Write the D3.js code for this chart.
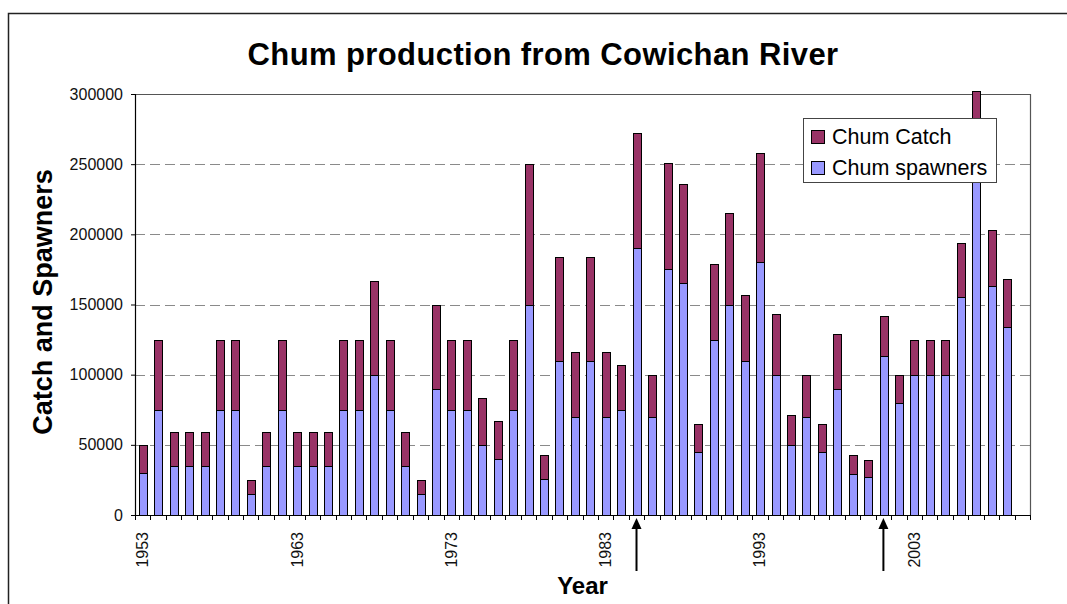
<!DOCTYPE html>
<html>
<head>
<meta charset="utf-8">
<script src="https://cdn.jsdelivr.net/npm/d3@7"></script>
<style>
  html, body { margin: 0; padding: 0; background: #fff; }
  svg { display: block; font-family: "Liberation Sans", Arial, sans-serif; }
</style>
</head>
<body>
<svg id="chart" width="1067" height="604"></svg>
<script>
// Return years (categories on the x axis)
const years = [
  1953, 1954, 1955, 1956, 1957, 1958, 1959, 1960, 1961, 1962,
  1963, 1964, 1965, 1966, 1967, 1968, 1969, 1970, 1971, 1972,
  1973, 1974, 1975, 1976, 1977, 1978, 1979, 1980, 1981, 1982,
  1983, 1984, 1985, 1986, 1987, 1988, 1989, 1990, 1991, 1992,
  1993, 1994, 1995, 1996, 1997, 1998, 1999, 2000, 2001, 2002,
  2003, 2004, 2005, 2006, 2007, 2008, 2009, 2010
];

// Chum spawners (escapement) per year
const spawners = [
  30000, 75000, 35000, 35000, 35000, 75000, 75000, 15000, 35000, 75000,
  35000, 35000, 35000, 75000, 75000, 100000, 75000, 35000, 15000, 90000,
  75000, 75000, 50000, 40000, 75000, 150000, 25500, 110000, 70000, 110000,
  70000, 75000, 190000, 70000, 175000, 165000, 45000, 125000, 150000, 110000,
  180000, 100000, 50000, 70000, 45000, 90000, 29500, 27000, 113000, 80000,
  100000, 100000, 100000, 155000, 240000, 163000, 134000, null
];

// Chum catch per year (stacked on top of spawners)
const catchVals = [
  20000, 50000, 24000, 24000, 24000, 50000, 50000, 10000, 24000, 50000,
  24000, 24000, 24000, 50000, 50000, 66500, 50000, 24000, 10000, 60000,
  50000, 50000, 33500, 27000, 50000, 100000, 17000, 74000, 46500, 74000,
  46500, 32000, 82000, 30000, 76000, 71000, 19500, 54000, 65000, 47000,
  78000, 43000, 21500, 30000, 19500, 39000, 13000, 12000, 29000, 20000,
  25000, 25000, 25000, 39000, 62000, 40000, 34000, null
];

// Y axis ticks and labelled years
const yTicks = [0, 50000, 100000, 150000, 200000, 250000, 300000];
const labelYears = [1953, 1963, 1973, 1983, 1993, 2003];
// Years marked with an arrow under the axis
const markedYears = [1985, 2001];

const seriesNames = ["Chum Catch", "Chum spawners"];
const seriesColors = ["#993366", "#9999ff"];

const svg = d3.select("#chart");

// outer chart frame
svg.append("path")
  .attr("d", "M8.5,620 V13.5 H1080")
  .attr("fill", "none")
  .attr("stroke", "#222")
  .attr("stroke-width", 1.5);

const plot = { left: 135, right: 1030, top: 94, bottom: 515 };

const x = d3.scaleBand()
  .domain(years)
  .range([plot.left, plot.right])
  .paddingInner(0.5)
  .paddingOuter(0.25);

const y = d3.scaleLinear()
  .domain([0, 300000])
  .range([plot.bottom, plot.top]);

// dashed gridlines
svg.append("g")
  .selectAll("line")
  .data(yTicks.filter(d => d > 0 && d < 300000))
  .join("line")
  .attr("x1", plot.left)
  .attr("x2", plot.right)
  .attr("y1", d => Math.round(y(d)) + 0.5)
  .attr("y2", d => Math.round(y(d)) + 0.5)
  .attr("stroke", "#8a8a8a")
  .attr("stroke-dasharray", "10,5");

// plot area border (top and right)
svg.append("path")
  .attr("d", `M${plot.left},${plot.top + 0.5} H${plot.right + 0.5} V${plot.bottom}`)
  .attr("fill", "none")
  .attr("stroke", "#555")
  .attr("stroke-width", 1.2);

// stacked data
const rows = years.map((yr, i) => ({ year: yr, spawners: spawners[i], catch: catchVals[i] }))
  .filter(d => d.spawners != null);
const stack = d3.stack().keys(["spawners", "catch"]);
const layers = stack(rows);
const layerColor = { spawners: seriesColors[1], catch: seriesColors[0] };

svg.append("g")
  .selectAll("g")
  .data(layers)
  .join("g")
  .attr("fill", d => layerColor[d.key])
  .selectAll("rect")
  .data(d => d)
  .join("rect")
  .attr("x", d => Math.round(x(d.data.year)) + 0.5)
  .attr("width", Math.round(x.bandwidth()))
  .attr("y", d => Math.round(y(d[1])) + 0.5)
  .attr("height", d => Math.round(y(d[0])) - Math.round(y(d[1])))
  .attr("stroke", "#000")
  .attr("stroke-width", 1);

// y axis
const yAxis = d3.axisLeft(y)
  .tickValues(yTicks)
  .tickFormat(d3.format("d"))
  .tickSize(4)
  .tickPadding(8);

const gy = svg.append("g")
  .attr("transform", `translate(${plot.left},0)`)
  .call(yAxis);
gy.select(".domain").attr("stroke", "#000").attr("stroke-width", 1.2);
gy.selectAll(".tick line").attr("stroke", "#000");
gy.selectAll("text")
  .attr("font-size", 16)
  .attr("fill", "#111")
  .attr("font-family", "Liberation Sans, Arial, sans-serif");

// x axis: ticks sit between categories
const step = x.step();
const boundaries = d3.range(years.length + 1).map(i => plot.left + i * step);
const gx = svg.append("g");
gx.append("line")
  .attr("x1", plot.left)
  .attr("x2", plot.right)
  .attr("y1", plot.bottom + 0.5)
  .attr("y2", plot.bottom + 0.5)
  .attr("stroke", "#000")
  .attr("stroke-width", 1.2);
gx.selectAll("line.tick")
  .data(boundaries)
  .join("line")
  .attr("class", "tick")
  .attr("x1", d => Math.round(d) + 0.5)
  .attr("x2", d => Math.round(d) + 0.5)
  .attr("y1", plot.bottom)
  .attr("y2", plot.bottom + 5)
  .attr("stroke", "#000");
gx.selectAll("text")
  .data(labelYears)
  .join("text")
  .attr("transform", d => `translate(${x(d) + x.bandwidth() / 2 + 5.5},532) rotate(-90)`)
  .attr("text-anchor", "end")
  .attr("font-size", 16)
  .attr("fill", "#111")
  .text(d => d);

// arrows under marked years
const arrows = svg.append("g");
markedYears.forEach(yr => {
  const cx = x(yr) + x.bandwidth() / 2;
  arrows.append("line")
    .attr("x1", cx).attr("x2", cx)
    .attr("y1", 571).attr("y2", 526)
    .attr("stroke", "#000")
    .attr("stroke-width", 2);
  arrows.append("path")
    .attr("d", `M${cx},518 L${cx - 5},529 L${cx + 5},529 Z`)
    .attr("fill", "#000");
});

// titles
svg.append("text")
  .attr("x", 543)
  .attr("y", 65)
  .attr("text-anchor", "middle")
  .attr("font-size", 31)
  .attr("font-weight", "bold")
  .attr("letter-spacing", 0.4)
  .attr("fill", "#000")
  .text("Chum production from Cowichan River");

svg.append("text")
  .attr("transform", "translate(52,302) rotate(-90)")
  .attr("text-anchor", "middle")
  .attr("font-size", 27)
  .attr("font-weight", "bold")
  .attr("fill", "#000")
  .text("Catch and Spawners");

svg.append("text")
  .attr("x", (plot.left + plot.right) / 2)
  .attr("y", 594)
  .attr("text-anchor", "middle")
  .attr("font-size", 24)
  .attr("font-weight", "bold")
  .attr("fill", "#000")
  .text("Year");

// legend
const legend = svg.append("g").attr("transform", "translate(803,118)");
legend.append("rect")
  .attr("x", 0.5).attr("y", 0.5)
  .attr("width", 193).attr("height", 64)
  .attr("fill", "#fff")
  .attr("stroke", "#444")
  .attr("stroke-width", 1);
seriesNames.forEach((name, i) => {
  const row = legend.append("g").attr("transform", `translate(0,${12 + i * 31})`);
  row.append("rect")
    .attr("x", 8.5).attr("y", 0.5)
    .attr("width", 13).attr("height", 13)
    .attr("fill", seriesColors[i])
    .attr("stroke", "#000");
  row.append("text")
    .attr("x", 29)
    .attr("y", 14)
    .attr("font-size", 21.5)
    .attr("fill", "#000")
    .text(name);
});
</script>
</body>
</html>
